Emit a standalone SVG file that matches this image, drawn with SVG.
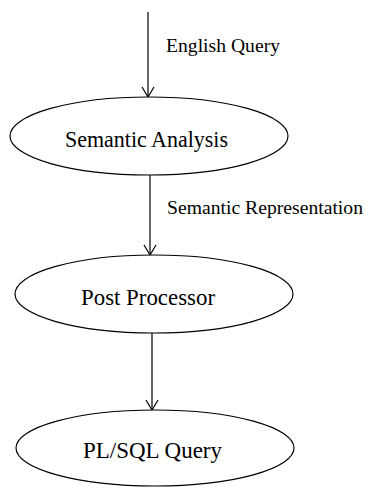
<svg xmlns="http://www.w3.org/2000/svg" width="368" height="488" viewBox="0 0 368 488">
<style>
.node{fill:#fff;stroke:#000;stroke-width:1.2}
.lbl{font-family:"Liberation Serif","Times New Roman",serif;font-size:22.5px;fill:#000}
.elbl{font-family:"Liberation Serif","Times New Roman",serif;font-size:19.5px;fill:#000}
.edge{stroke:#000;stroke-width:1.2;fill:none}
</style>
<defs>
<marker id="arr" viewBox="0 0 12 14" refX="11" refY="7" markerWidth="12" markerHeight="14" markerUnits="userSpaceOnUse" orient="auto">
<path d="M1,1 L11,7 L1,13" fill="none" stroke="#000" stroke-width="1.2"/>
</marker>
</defs>
<rect width="368" height="488" fill="#fff"/>
<g id="connectors">
<line class="edge" x1="148" y1="12" x2="148" y2="97" marker-end="url(#arr)"/>
<line class="edge" x1="150" y1="175" x2="150" y2="255" marker-end="url(#arr)"/>
<line class="edge" x1="152" y1="333" x2="152" y2="410" marker-end="url(#arr)"/>
<text class="elbl" x="166" y="52" textLength="114" lengthAdjust="spacingAndGlyphs">English Query</text>
<text class="elbl" x="167" y="214" textLength="196" lengthAdjust="spacingAndGlyphs">Semantic Representation</text>
</g>
<g id="semantic-analysis">
<ellipse class="node" cx="149" cy="136" rx="139" ry="39"/>
<text class="lbl" x="65" y="147" textLength="163" lengthAdjust="spacingAndGlyphs">Semantic Analysis</text>
</g>
<g id="post-processor">
<ellipse class="node" cx="154" cy="294" rx="139" ry="39"/>
<text class="lbl" x="81" y="305" textLength="134" lengthAdjust="spacingAndGlyphs">Post Processor</text>
</g>
<g id="plsql-query">
<ellipse class="node" cx="155" cy="448" rx="139" ry="38"/>
<text class="lbl" x="83" y="458" textLength="139" lengthAdjust="spacingAndGlyphs">PL/SQL Query</text>
</g>
</svg>
